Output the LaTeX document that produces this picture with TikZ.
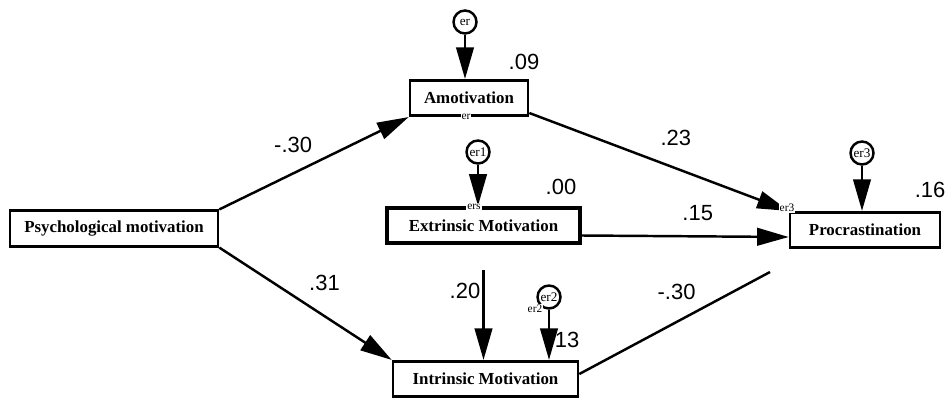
\documentclass[tikz,border=0pt]{standalone}
\usepackage{fontspec}
\setmainfont{Liberation Serif}
\setsansfont{Liberation Sans}
\usetikzlibrary{arrows.meta, positioning, calc}

\begin{document}
\begin{tikzpicture}[
    x=0.02cm, y=-0.02cm,
    var/.style={rectangle, draw=black, line width=1.5pt, align=center, font=\fontsize{9.6}{11}\selectfont\bfseries, inner sep=2pt, minimum height=0.71cm},
    err/.style={circle, draw=black, line width=1.4pt, fill=white, minimum size=0.46cm, inner sep=0pt, font=\fontsize{7.5}{8}\selectfont},
    tag/.style={fill=white, inner sep=0.5pt, font=\fontsize{6.5}{7}\selectfont},
    coef/.style={font=\sffamily\fontsize{12.5}{13}\selectfont, inner sep=1pt},
    line/.style={draw=black, line width=1.4pt, -{Triangle[length=18pt, width=10pt]}},
    plain/.style={draw=black, line width=1.4pt}
]
\useasboundingbox (0,0) rectangle (946,399);

\node[var, minimum width=4.16cm] (psych) at (114,228.5) {Psychological motivation};
\node[var, minimum width=2.36cm] (amot) at (469,98) {Amotivation};
\node[var, minimum width=3.86cm, line width=2.2pt] (extr) at (483.5,225.5) {Extrinsic Motivation};
\node[var, minimum width=3.70cm] (intr) at (485.5,379) {Intrinsic Motivation};
\node[var, minimum width=3.00cm] (proc) at (865,230) {Procrastination};

\node[err] (er0) at (465,22) {er};
\node[err] (er1) at (478,152) {er1};
\node[err] (er2) at (549,297) {er2};
\node[err] (er3) at (862,153) {er3};

\coordinate (proc_end) at (770,272);

\draw[line] (er0) -- (er0 |- amot.north);
\draw[line] (er1) -- (er1 |- extr.north);
\draw[line] (er2) -- (er2 |- intr.north);
\draw[line] (er3) -- (er3 |- proc.north);

\draw[line] (psych.north east) -- node[coef, pos=0.39, above=10pt] {-.30} (amot.south west);
\draw[line] (psych.south east) -- node[coef, pos=0.61, above=13pt] {.31} (intr.north west);
\draw[line] ($(amot.east)+(0,15)$) -- node[coef, pos=0.565, above=11pt] {.23} (proc.north west);
\draw[line] ($(extr.east)+(0,10)$) -- node[coef, pos=0.56, above=7pt] {.15} ($(proc.west)+(0,7)$);
\draw[line, shorten <=0.5cm] (extr.south) -- (extr.south |- intr.north);
\draw[plain] ($(intr.east)+(0,-5)$) -- node[coef, pos=0.51, above=11pt] {-.30} (proc_end);

\node[coef] (r_amot) at (524,62) {.09};
\node[coef] (r_extr) at (561,187) {.00};
\node[coef] (c_extr) at (465,291) {.20};
\node[coef] (r_intr) at (567,340) {13};
\node[coef] (r_proc) at (930,190) {.16};

\node[tag] (t_amot) at (466,117) {er};
\node[tag] (t_extr) at (474,207) {ers};
\node[tag] (t_intr) at (535,309) {er2};
\node[tag] (t_proc) at (787,208) {er3};

\end{tikzpicture}
\end{document}
